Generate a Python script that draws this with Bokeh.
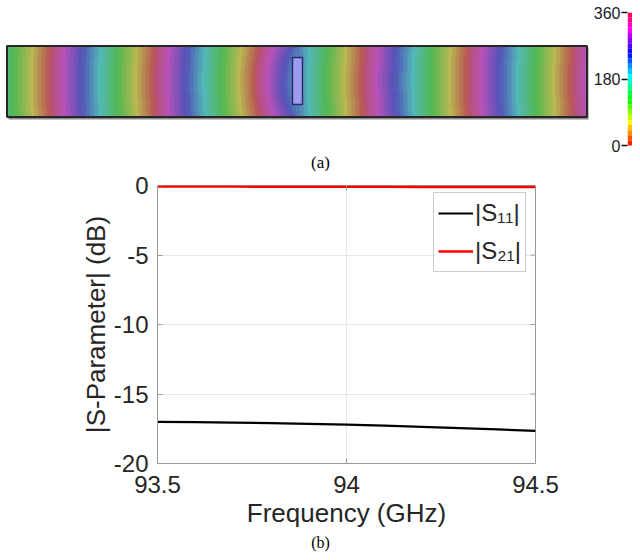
import colorsys
import numpy as np
from bokeh.plotting import figure
from bokeh.models import (Range1d, FixedTicker, Legend, LegendItem, LinearColorMapper)
from bokeh.layouts import row, column
from bokeh.core.properties import value
from bokeh.embed import file_html
from bokeh.resources import INLINE

# ---------------- data ----------------
freq_ghz = [93.5, 93.6, 93.7, 93.8, 93.9, 94.0, 94.1, 94.2, 94.3, 94.4, 94.5]
s11_db = [-17.00, -17.03, -17.06, -17.10, -17.15, -17.21, -17.28, -17.36, -17.45, -17.55, -17.66]
s21_db = [-0.08, -0.08, -0.08, -0.09, -0.09, -0.09, -0.09, -0.10, -0.10, -0.10, -0.10]
x_ticks = [93.5, 94.0, 94.5]
x_tick_labels = ["93.5", "94", "94.5"]
y_ticks = [-20, -15, -10, -5, 0]
y_tick_labels = ["-20", "-15", "-10", "-5", "0"]
phase_ticks = [0, 180, 360]
n_phase_levels = 26

# phase field (a): wavefront period and position of a 240 deg front (px)
wave_period = 104.5
front_240_x = 85.0
element_center_x = 297.0

SANS = "Liberation Sans"
SERIF = "Liberation Serif"

# ---------------- colour maps ----------------
edges = np.linspace(0, 360, n_phase_levels + 1)
mids = 0.5 * (edges[:-1] + edges[1:])
bar_colors, field_colors = [], []
for m in mids:
    r, g, b = colorsys.hsv_to_rgb((m / 360.0) * 0.96, 1.0, 1.0)
    bar_colors.append("#%02x%02x%02x" % (int(r * 255), int(g * 255), int(b * 255)))
    field_colors.append("#%02x%02x%02x" % (int(0.40 * r * 255 + 82), int(0.40 * g * 255 + 82),
                                           int(0.40 * b * 255 + 82)))

ROW_H = 171                # height of the (a) row
CB_TOP, CB_BOT = 12, 145   # colour bar extent (px from top)

# ---------------- (a) field figure (data x = px, data y = ROW_H - px) ----------------
fp = figure(width=590, height=ROW_H, x_range=Range1d(0, 590), y_range=Range1d(0, ROW_H - CB_TOP),
            toolbar_location=None, output_backend="svg",
            min_border_left=0, min_border_right=0, min_border_top=CB_TOP, min_border_bottom=0,
            x_axis_location=None, y_axis_location=None)
fp.outline_line_color = None
fp.xgrid.visible = False
fp.ygrid.visible = False

IX0, IX1, IY_TOP, IY_BOT = 7, 586, 46, 116
nx, ny = IX1 - IX0, IY_BOT - IY_TOP
xp = IX0 + np.arange(nx) + 0.5
yp = IY_BOT - (np.arange(ny) + 0.5)
X, Y = np.meshgrid(xp, yp)
yc, hh = 81.0, 35.0
bump = np.clip(1 - ((Y - yc) / hh) ** 2, 0, 1)
bend = (5 + 25 * np.exp(-((X - element_center_x) / 45.0) ** 2) * (X < element_center_x)) * bump
phase = np.mod(240 - 360 * (X - front_240_x) / wave_period - bend, 360)

mapper = LinearColorMapper(palette=field_colors, low=0, high=360)
fp.quad(left=IX0 + 1, right=IX1 + 2, bottom=ROW_H - (IY_BOT + 3), top=ROW_H - (IY_TOP + 1),
        fill_color="#8a8a8a", line_color=None)
fp.image(image=[phase], x=IX0, y=ROW_H - IY_BOT, dw=nx, dh=ny, color_mapper=mapper)
fp.quad(left=IX0 - 0.5, right=IX1 + 0.5, bottom=ROW_H - IY_BOT - 0.5, top=ROW_H - IY_TOP + 0.5,
        fill_color=None, line_color="#262626", line_width=2)
fp.quad(left=292, right=302, bottom=ROW_H - 104, top=ROW_H - 57, fill_color="#9a9cf0",
        line_color="#2c2c6c", line_width=1.5)
fp.text(x=[320], y=[ROW_H - 162], text=["(a)"], text_font=value(SERIF), text_font_size="17px",
        text_align="center", text_baseline="middle", text_color="#000000")

# ---------------- (a) colour bar (frame runs to row bottom; 0..360 mapped to CB_BOT..CB_TOP) ----------------
cb_start = -phase_ticks[-1] * (ROW_H - CB_BOT) / (CB_BOT - CB_TOP)
cb = figure(width=42, height=ROW_H, x_range=Range1d(0, 1),
            y_range=Range1d(cb_start, phase_ticks[-1]),
            toolbar_location=None, output_backend="svg",
            min_border_left=0, min_border_right=0, min_border_top=CB_TOP, min_border_bottom=0,
            x_axis_location=None, y_axis_location="left")
cb.quad(left=0, right=1, bottom=edges[:-1], top=edges[1:], fill_color=bar_colors, line_color=None)
cb.outline_line_color = None
cb.ygrid.visible = False
cb.xgrid.visible = False
cb.yaxis.ticker = FixedTicker(ticks=phase_ticks)
cb.yaxis.axis_line_color = None
cb.yaxis.major_tick_out = 6
cb.yaxis.major_tick_in = 0
cb.yaxis.major_tick_line_color = "#111111"
cb.yaxis.major_tick_line_width = 1.5
cb.yaxis.minor_tick_line_color = None
cb.yaxis.major_label_standoff = 1
cb.yaxis.major_label_text_font = SANS
cb.yaxis.major_label_text_font_size = "16px"
cb.yaxis.major_label_text_color = "#1a1a2a"

# ---------------- (b) S-parameter plot ----------------
AX = "#9a9a9a"
TXT = "#262626"
P_BOTTOM = 533
P_H = P_BOTTOM - ROW_H
FRAME_L, FRAME_R = 157, 535
p = figure(width=632, height=P_H, x_range=Range1d(93.5, 94.5), y_range=Range1d(-20, 0),
           toolbar_location=None, output_backend="svg",
           min_border_left=FRAME_L, min_border_right=632 - FRAME_R, min_border_top=185 - ROW_H,
           min_border_bottom=P_BOTTOM - 463)
p.outline_line_color = AX
p.grid.grid_line_color = "#e6e6e6"
p.xgrid.ticker = FixedTicker(ticks=x_ticks)
p.ygrid.ticker = FixedTicker(ticks=y_ticks)

r11 = p.line(freq_ghz, s11_db, line_color="#000000", line_width=2.2)
r21 = p.line(freq_ghz, s21_db, line_color="#ff0000", line_width=2.5)

# inward ticks on the top and right edges of the box
x_tick_len = 5 * (94.5 - 93.5) / 378
y_tick_len = 5 * 20 / 278
p.segment(x0=x_ticks, y0=[0] * len(x_ticks), x1=x_ticks, y1=[-y_tick_len] * len(x_ticks),
          line_color=AX, line_width=1)
p.segment(x0=[94.5] * len(y_ticks), y0=y_ticks, x1=[94.5 - x_tick_len] * len(y_ticks), y1=y_ticks,
          line_color=AX, line_width=1)

for ax in [p.xaxis[0], p.yaxis[0]]:
    ax.axis_line_color = AX
    ax.major_tick_line_color = AX
    ax.major_tick_in = 5
    ax.major_tick_out = 0
    ax.minor_tick_line_color = None
    ax.major_label_text_font = SANS
    ax.major_label_text_font_size = "24px"
    ax.major_label_text_color = TXT
    ax.axis_label_text_font = SANS
    ax.axis_label_text_font_size = "26px"
    ax.axis_label_text_font_style = "normal"
    ax.axis_label_text_color = TXT

p.xaxis.ticker = FixedTicker(ticks=x_ticks)
p.xaxis.major_label_overrides = {t: s for t, s in zip(x_ticks, x_tick_labels)}
p.xaxis.major_label_standoff = 12
p.xaxis.axis_label = "Frequency (GHz)"
p.xaxis.axis_label_standoff = 2

p.yaxis.ticker = FixedTicker(ticks=y_ticks)
p.yaxis.major_label_overrides = {t: s for t, s in zip(y_ticks, y_tick_labels)}
p.yaxis.major_label_standoff = 9
p.yaxis.axis_label = "|S-Parameter| (dB)"
p.yaxis.axis_label_standoff = 0

legend = Legend(items=[LegendItem(label="|S\u2081\u2081|", renderers=[r11]),
                       LegendItem(label="|S\u2082\u2081|", renderers=[r21])],
                location=(276, 191))
legend.border_line_color = "#999999"
legend.border_line_width = 1
legend.background_fill_color = "#ffffff"
legend.background_fill_alpha = 1.0
legend.padding = 4
legend.spacing = 6
legend.margin = 0
legend.label_height = 32
legend.glyph_height = 32
legend.glyph_width = 35
legend.label_standoff = 2
legend.label_text_font = SANS
legend.label_text_font_size = "24px"
legend.label_text_color = TXT
p.add_layout(legend)

# ---------------- caption strip "(b)" (frame is aligned with p's frame; data x = px) ----------------
CAP_H = 552 - P_BOTTOM
fb = figure(width=632, height=CAP_H, x_range=Range1d(FRAME_L, FRAME_R), y_range=Range1d(0, CAP_H),
            toolbar_location=None, output_backend="svg",
            min_border_left=FRAME_L, min_border_right=632 - FRAME_R,
            min_border_top=0, min_border_bottom=0,
            x_axis_location=None, y_axis_location=None)
fb.outline_line_color = None
fb.xgrid.visible = False
fb.ygrid.visible = False
fb.text(x=[320], y=[552 - 542], text=["(b)"], text_font=value(SERIF), text_font_size="16px",
        text_align="center", text_baseline="middle", text_color="#000000")

layout = column(row(fp, cb), p, fb)
open("out.html", "w").write(file_html(layout, INLINE))
